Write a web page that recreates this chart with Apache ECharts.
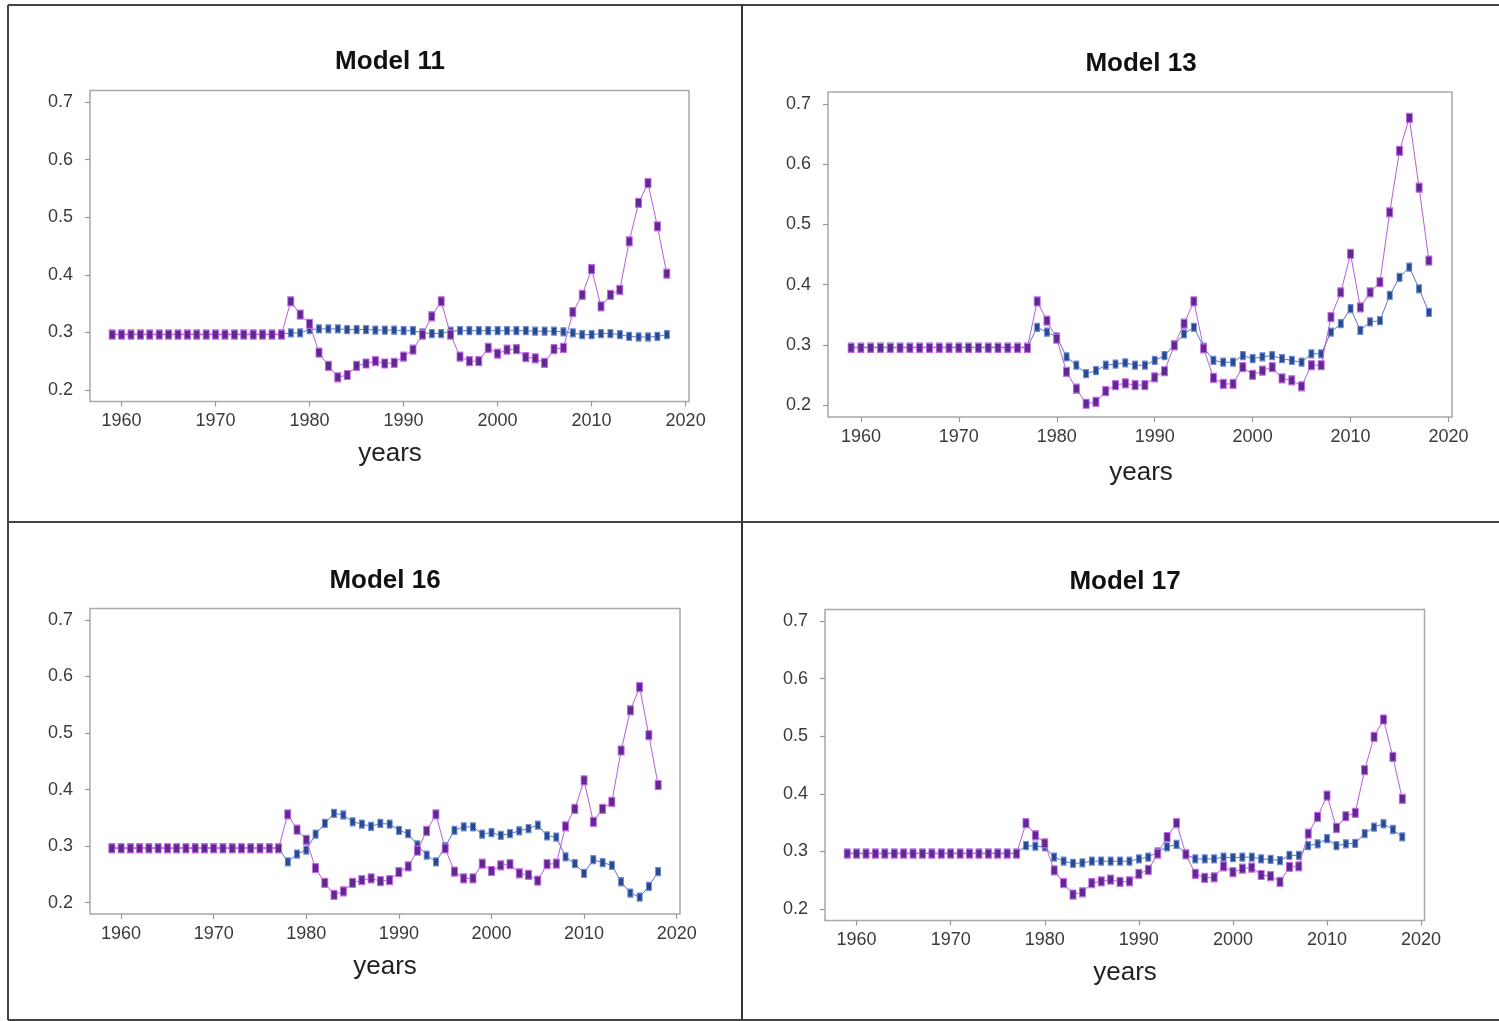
<!DOCTYPE html>
<html>
<head>
<meta charset="utf-8">
<script src="https://cdn.jsdelivr.net/npm/echarts@6/dist/echarts.min.js"></script>
<style>
html,body{margin:0;padding:0;background:#fff;}
#chart{width:1499px;height:1021px;}
</style>
</head>
<body>
<div id="chart"></div>
<script>
var years = [1959,1960,1961,1962,1963,1964,1965,1966,1967,1968,1969,1970,1971,1972,1973,1974,1975,1976,1977,
  1978,1979,1980,1981,1982,1983,1984,1985,1986,1987,1988,1989,1990,1991,1992,1993,1994,1995,1996,1997,1998,1999,
  2000,2001,2002,2003,2004,2005,2006,2007,2008,2009,2010,2011,2012,2013,2014,2015,2016,2017,2018];
var xTicks = [1960,1970,1980,1990,2000,2010,2020];
var yTicks = [0.2,0.3,0.4,0.5,0.6,0.7];
var titles = ["Model 11","Model 13","Model 16","Model 17"];

var m11Purple = [0.296,0.296,0.296,0.296,0.296,0.296,0.296,0.296,0.296,0.296,0.296,0.296,0.296,0.296,0.296,0.296,0.296,0.296,0.296,
  0.354,0.331,0.315,0.265,0.242,0.222,0.226,0.242,0.246,0.25,0.246,0.247,0.258,0.27,0.296,0.328,0.354,0.296,0.258,0.25,0.25,0.273,
  0.263,0.27,0.271,0.257,0.255,0.247,0.271,0.273,0.335,0.365,0.41,0.345,0.365,0.374,0.458,0.525,0.559,0.484,0.402];
var m11Blue = [0.297,0.297,0.297,0.297,0.297,0.297,0.297,0.297,0.297,0.297,0.297,0.297,0.297,0.297,0.297,0.297,0.297,0.297,0.297,
  0.299,0.299,0.305,0.306,0.306,0.306,0.305,0.305,0.305,0.304,0.304,0.304,0.303,0.303,0.299,0.298,0.298,0.302,0.303,0.303,0.303,0.303,
  0.303,0.303,0.303,0.303,0.302,0.302,0.302,0.301,0.299,0.296,0.296,0.298,0.298,0.296,0.293,0.292,0.292,0.293,0.296];
var m13Purple = [0.295,0.295,0.295,0.295,0.295,0.295,0.295,0.295,0.295,0.295,0.295,0.295,0.295,0.295,0.295,0.295,0.295,0.295,0.295,
  0.372,0.34,0.31,0.255,0.227,0.202,0.205,0.223,0.233,0.236,0.233,0.233,0.246,0.256,0.299,0.335,0.372,0.294,0.245,0.235,0.235,0.263,
  0.25,0.257,0.263,0.244,0.241,0.231,0.266,0.266,0.346,0.387,0.451,0.362,0.387,0.404,0.52,0.622,0.677,0.561,0.44];
var m13Blue = [0.296,0.296,0.296,0.296,0.296,0.296,0.296,0.296,0.296,0.296,0.296,0.296,0.296,0.296,0.296,0.296,0.296,0.296,0.296,
  0.329,0.321,0.313,0.28,0.266,0.252,0.257,0.266,0.268,0.27,0.266,0.266,0.274,0.282,0.30,0.318,0.329,0.296,0.274,0.271,0.271,0.282,
  0.277,0.28,0.282,0.277,0.274,0.271,0.285,0.285,0.321,0.335,0.36,0.324,0.338,0.34,0.382,0.412,0.429,0.393,0.354];
var m16Purple = [0.296,0.296,0.296,0.296,0.296,0.296,0.296,0.296,0.296,0.296,0.296,0.296,0.296,0.296,0.296,0.296,0.296,0.296,0.296,
  0.356,0.329,0.311,0.261,0.235,0.214,0.22,0.235,0.24,0.243,0.238,0.24,0.254,0.264,0.292,0.327,0.356,0.296,0.255,0.243,0.243,0.269,
  0.256,0.266,0.268,0.252,0.249,0.239,0.268,0.269,0.335,0.366,0.416,0.343,0.366,0.378,0.469,0.54,0.581,0.496,0.408];
var m16Blue = [0.297,0.297,0.297,0.297,0.297,0.297,0.297,0.297,0.297,0.297,0.297,0.297,0.297,0.297,0.297,0.297,0.297,0.297,0.297,
  0.272,0.286,0.293,0.321,0.34,0.358,0.355,0.343,0.339,0.335,0.34,0.339,0.328,0.322,0.302,0.284,0.272,0.299,0.328,0.334,0.334,0.321,
  0.324,0.319,0.322,0.327,0.331,0.337,0.318,0.316,0.281,0.269,0.252,0.276,0.271,0.266,0.237,0.217,0.21,0.229,0.255];
var m17Purple = [0.296,0.296,0.296,0.296,0.296,0.296,0.296,0.296,0.296,0.296,0.296,0.296,0.296,0.296,0.296,0.296,0.296,0.296,0.296,
  0.349,0.328,0.314,0.267,0.245,0.225,0.229,0.245,0.248,0.251,0.247,0.248,0.261,0.268,0.296,0.325,0.349,0.295,0.261,0.254,0.255,0.274,
  0.264,0.27,0.272,0.259,0.257,0.247,0.273,0.274,0.331,0.36,0.397,0.341,0.361,0.367,0.441,0.499,0.529,0.464,0.391];
var m17Blue = [0.297,0.297,0.297,0.297,0.297,0.297,0.297,0.297,0.297,0.297,0.297,0.297,0.297,0.297,0.297,0.297,0.297,0.297,0.297,
  0.31,0.309,0.308,0.29,0.283,0.279,0.28,0.283,0.283,0.283,0.283,0.283,0.287,0.29,0.299,0.308,0.312,0.295,0.287,0.287,0.287,0.29,
  0.289,0.29,0.29,0.287,0.286,0.284,0.293,0.293,0.31,0.313,0.322,0.31,0.313,0.314,0.331,0.342,0.348,0.338,0.325];

var purpleSets = [m11Purple, m13Purple, m16Purple, m17Purple];
var blueSets = [m11Blue, m13Blue, m16Blue, m17Blue];

// layout (pixels)
var grids = [
  {left:90, top:90.5, width:599, height:311},
  {left:828, top:92, width:624, height:325},
  {left:90, top:608.5, width:590, height:305.5},
  {left:825, top:609.5, width:599.5, height:311}
];
var titlePos = [[385,44],[1136,46],[380,563],[1120,564]];
var yearsPos = [[390,454],[1141,473],[385,967],[1125,973]];

var FONT = 'Arial, "Liberation Sans", sans-serif';
function pairs(vals){ return years.map(function(y,i){ return [y, vals[i]]; }); }

var option = {
  backgroundColor:'#ffffff',
  animation:false,
  title: titles.map(function(t,i){
    return {text:t, left:titlePos[i][0], top:titlePos[i][1], textAlign:'center',
      textStyle:{fontFamily:FONT, fontSize:26, fontWeight:'bold', color:'#111'}};
  }),
  grid: grids.map(function(g){
    return {left:g.left, top:g.top, width:g.width, height:g.height, show:true,
      borderColor:'#a8a8a8', borderWidth:1.5, backgroundColor:'#fff', containLabel:false};
  }),
  xAxis: grids.map(function(g,i){
    return {type:'value', gridIndex:i, min:1956.64, max:2020.36,
      splitLine:{show:false}, axisLine:{show:false},
      axisTick:{show:true, inside:false, length:5, customValues:xTicks, lineStyle:{color:'#999', width:1.2}},
      axisLabel:{show:true, margin:11, customValues:xTicks, fontFamily:FONT, fontSize:18, color:'#3a3a3a',
        formatter:function(v){ return String(v); }}};
  }),
  yAxis: grids.map(function(g,i){
    return {type:'value', gridIndex:i, min:0.18, max:0.72,
      splitLine:{show:false}, axisLine:{show:false},
      axisTick:{show:true, inside:false, length:5, customValues:yTicks, lineStyle:{color:'#999', width:1.2}},
      axisLabel:{show:true, margin:17, customValues:yTicks, fontFamily:FONT, fontSize:18, color:'#3a3a3a',
        formatter:function(v){ return v.toFixed(1); }}};
  }),
  graphic: [
    {type:'line', shape:{x1:8,y1:5,x2:1499,y2:5}, style:{stroke:'#444', lineWidth:2}},
    {type:'line', shape:{x1:8,y1:5,x2:8,y2:1020}, style:{stroke:'#444', lineWidth:2}},
    {type:'line', shape:{x1:8,y1:1020,x2:1499,y2:1020}, style:{stroke:'#444', lineWidth:2}},
    {type:'line', shape:{x1:742,y1:5,x2:742,y2:1020}, style:{stroke:'#333', lineWidth:2}},
    {type:'line', shape:{x1:8,y1:522,x2:1499,y2:522}, style:{stroke:'#444', lineWidth:2}}
  ].concat(yearsPos.map(function(p){
    return {type:'text', x:p[0], y:p[1], style:{text:'years', fontFamily:FONT, fontSize:26, fill:'#222',
      textAlign:'center', textVerticalAlign:'middle'}};
  })),
  series: []
};

for (var i=0;i<4;i++){
  option.series.push({
    type:'line', xAxisIndex:i, yAxisIndex:i, data:pairs(blueSets[i]),
    symbol:'rect', symbolSize:[5,8],
    lineStyle:{color:'#5b73c8', width:1},
    itemStyle:{color:'#2b4a8e', borderColor:'#6a8ad8', borderWidth:1},
    z:2
  });
  option.series.push({
    type:'line', xAxisIndex:i, yAxisIndex:i, data:pairs(purpleSets[i]),
    symbol:'rect', symbolSize:[6,9],
    lineStyle:{color:'#b45fd6', width:1},
    itemStyle:{color:'#5e2a92', borderColor:'#c768e6', borderWidth:1},
    z:3
  });
}

var chart = echarts.init(document.getElementById('chart'), null, {renderer:'canvas'});
chart.setOption(option);
</script>
</body>
</html>
